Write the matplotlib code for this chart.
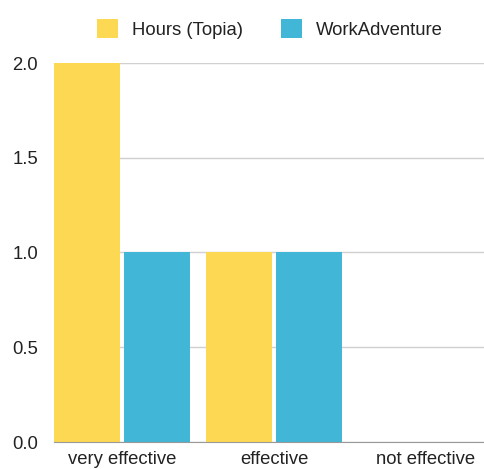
import matplotlib
matplotlib.use("Agg")
import matplotlib.pyplot as plt
import numpy as np
from matplotlib.patches import Patch

categories = ["very effective", "effective", "not effective"]
series_names = ["Hours (Topia)", "WorkAdventure"]
topia = [2, 1, 0]
workadventure = [1, 1, 0]
colors = ["#FDD853", "#41B6D6"]

plt.rcParams["font.family"] = ["Liberation Sans", "DejaVu Sans"]

W, H = 485, 469
fig = plt.figure(figsize=(W / 100, H / 100), dpi=100)
ax = fig.add_axes([54 / W, (H - 442) / H, (485 - 54) / W, (442 - 63) / H])

x = np.arange(len(categories))
bw = 0.434
off = 0.23
ax.bar(x - off, topia, bw, color=colors[0], zorder=3)
ax.bar(x + off, workadventure, bw, color=colors[1], zorder=3)

ax.set_xlim(-0.447, 2.388)
ax.set_ylim(0, 2)
ax.set_yticks([0, 0.5, 1.0, 1.5, 2.0])
ax.set_yticklabels(["0.0", "0.5", "1.0", "1.5", "2.0"])
ax.set_xticks(x)
ax.set_xticklabels(categories)
ax.yaxis.grid(True, color="#d0d0d0", linewidth=1, zorder=0)
for s in ["top", "right", "left"]:
    ax.spines[s].set_visible(False)
ax.spines["bottom"].set_color("#999999")
ax.spines["bottom"].set_zorder(4)
ax.tick_params(axis="both", length=0, labelsize=13.3, colors="#222222")
ax.tick_params(axis="y", pad=11.5)
ax.tick_params(axis="x", pad=6.5)

handles = [Patch(facecolor=c, edgecolor="none") for c in colors]
fig.legend(handles, series_names, loc="center", bbox_to_anchor=(270 / W, 1 - 29 / H),
           ncol=2, frameon=False, fontsize=13.3, handlelength=1.14, handleheight=1.14,
           columnspacing=2.05, handletextpad=0.76, labelcolor="#222222")

fig.savefig("out.png", dpi=100, facecolor="white")
